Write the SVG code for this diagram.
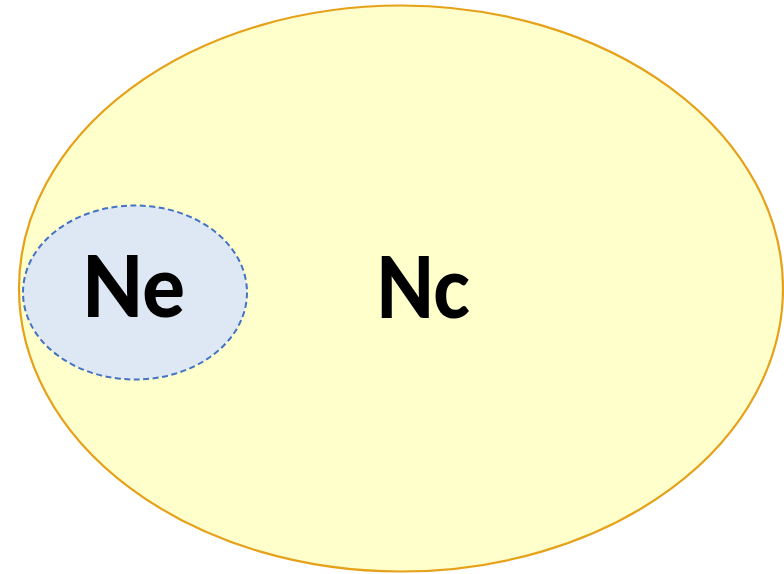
<svg xmlns="http://www.w3.org/2000/svg" width="784" height="574" viewBox="0 0 784 574">
<style>
.lbl{font-family:Lato,"Liberation Sans",sans-serif;font-weight:900;font-size:85px;fill:#000}
</style>
<rect width="784" height="574" fill="#fff"/>
<g id="Nc">
<ellipse cx="401" cy="288.5" rx="382" ry="283" fill="#FFFFCC" stroke="#E6A11A" stroke-width="2.2"/>
<text class="lbl" x="376" y="318" textLength="94" lengthAdjust="spacingAndGlyphs">Nc</text>
</g>
<g id="Ne">
<ellipse cx="135" cy="292.5" rx="112" ry="87" fill="#DEE8F5" stroke="#4472C4" stroke-width="2" stroke-dasharray="6,3.5"/>
<text class="lbl" x="82" y="317" textLength="103" lengthAdjust="spacingAndGlyphs">Ne</text>
</g>
<g id="connectors"/>
</svg>
